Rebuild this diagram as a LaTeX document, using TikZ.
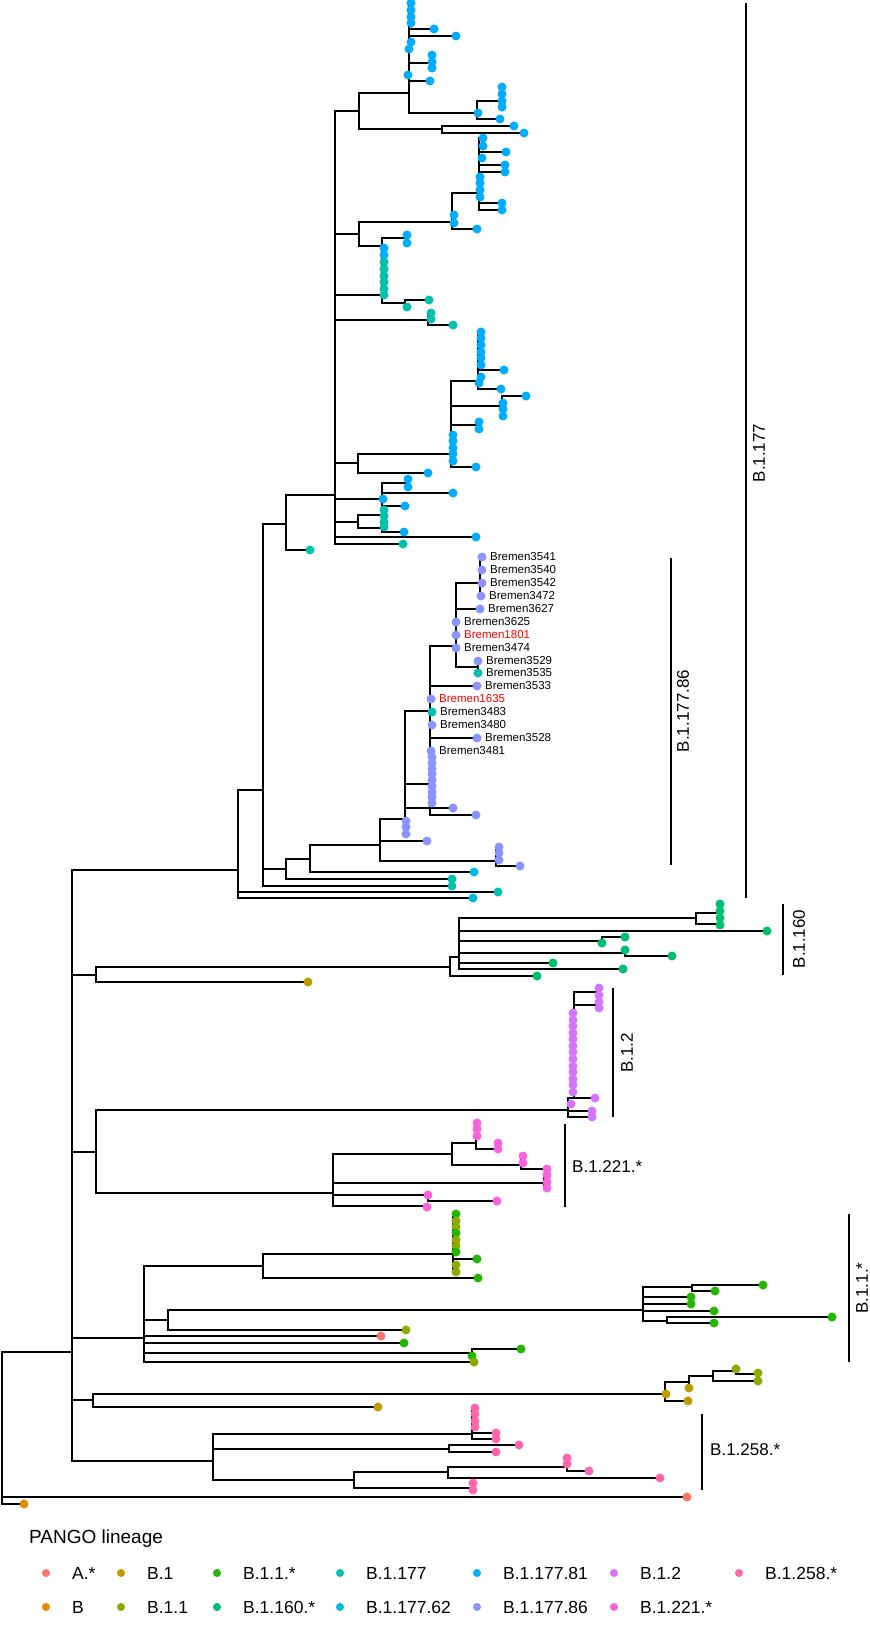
\documentclass[tikz,border=0pt]{standalone}
\usepackage{fontspec}
\setmainfont{Liberation Sans}
\pgfdeclarelayer{fg}
\pgfsetlayers{main,fg}
\definecolor{cA}{HTML}{F8766D}
\definecolor{cB}{HTML}{E18A00}
\definecolor{cBa}{HTML}{BE9C00}
\definecolor{cBb}{HTML}{8CAB00}
\definecolor{cBbs}{HTML}{24B700}
\definecolor{cBp}{HTML}{00BE70}
\definecolor{cT}{HTML}{00C1AB}
\definecolor{cTs}{HTML}{00BBDA}
\definecolor{cTe}{HTML}{00ACFC}
\definecolor{cTf}{HTML}{8B93FF}
\definecolor{cBt}{HTML}{D575FE}
\definecolor{cBu}{HTML}{F962DD}
\definecolor{cBv}{HTML}{FF65AC}
\newcommand\hb[3]{\draw[br] (#2,#1) -- (#3,#1);}
\newcommand\vb[3]{\draw[br] (#1,#2) -- (#1,#3);}
\newcommand\tp[3]{\begin{pgfonlayer}{fg}\fill[#3] (#1,#2) circle[radius=4.5];\end{pgfonlayer}}
\newcommand\tps[3]{\foreach \yy in {#3}{\tp{#1}{\yy}{#2}}}
\begin{document}
\begin{tikzpicture}[x=1pt,y=-1pt,
  br/.style={line width=1.8pt,line cap=rect,black},
  brack/.style={line width=1.7pt,black},
  brem/.style={anchor=west,inner sep=0pt,font=\fontsize{11.5}{13}\selectfont},
  clab/.style={inner sep=0pt,font=\fontsize{17}{20}\selectfont},
  leg/.style={anchor=west,inner sep=0pt,font=\fontsize{17.5}{20}\selectfont}]
\useasboundingbox (0,0) rectangle (870,1633);
% ---------------- root / backbone
\vb{2}{1352}{1504}
\hb{1352}{2}{72}
\hb{1497}{2}{687}\tp{687}{1497}{cA}
\hb{1504}{2}{24}\tp{24}{1504}{cB}
\vb{72}{870}{1461}
\hb{870}{72}{238}
\hb{975}{72}{96}
\hb{1152}{72}{96}
\hb{1338}{72}{144}
\hb{1400}{72}{93}
\hb{1461}{72}{213}
% ---------------- B.1.177 clade
\vb{238}{790}{898}
\hb{790}{238}{263}
\hb{892}{238}{498}\tp{498}{892}{cT}
\hb{898}{238}{473}\tp{473}{898}{cTs}
\vb{263}{524}{886}
\hb{524}{263}{286}
\hb{869}{263}{286}
\hb{886}{263}{452}\tp{452}{886}{cT}
% lower part
\vb{286}{859}{879}
\hb{859}{286}{310}
\hb{879}{286}{452}\tp{452}{879}{cT}
\vb{310}{845}{872}
\hb{845}{310}{380}
\hb{872}{310}{474}\tp{474}{872}{cTs}
\vb{380}{819}{861}
\hb{819}{380}{405}
\hb{841}{380}{427}\tp{427}{841}{cTf}
\hb{861}{380}{496}
\vb{496}{847}{866}
\tps{499}{cTf}{847,853,860}
\hb{866}{496}{520}\tp{520}{866}{cTf}
\vb{405}{711}{834}
\hb{711}{405}{430}
\hb{784}{405}{430}
\hb{808}{405}{453}\tp{453}{808}{cTf}
\tps{406}{cTf}{821,827,834}
\vb{430}{646}{815}
\hb{646}{430}{456}
\hb{686}{430}{477}\tp{477}{686}{cTf}
\tp{431}{699}{cTf}
\tp{432}{712}{cT}
\tp{432}{725}{cTf}
\hb{738}{430}{477}\tp{477}{738}{cTf}
\tp{431}{751}{cTf}
\tps{432}{cTf}{757,763,769,774,780,786,792,797,803}
\hb{815}{430}{476}\tp{476}{815}{cTf}
\vb{456}{583}{667}
\hb{583}{456}{480}
\vb{480}{557}{596}
\tps{482}{cTf}{557,570,583}
\tp{481}{596}{cTf}
\hb{609}{456}{480}\tp{480}{609}{cTf}
\tps{456}{cTf}{622,635,648}
\hb{667}{456}{478}
\vb{478}{661}{673}
\tp{478}{661}{cTf}
\tp{478}{673}{cT}
% upper part
\vb{286}{495}{550}
\hb{495}{286}{335}
\hb{550}{286}{310}\tp{310}{550}{cT}
\vb{335}{111}{544}
\hb{111}{335}{359}
\hb{234}{335}{359}
\hb{295}{335}{382}
\hb{320}{335}{428}
\hb{463}{335}{358}
\hb{499}{335}{382}
\hb{522}{335}{358}
\hb{537}{335}{476}\tp{476}{537}{cTe}
\hb{544}{335}{403}\tp{403}{544}{cT}
% top cluster
\vb{359}{93}{129}
\hb{93}{359}{409}
\hb{129}{359}{442}
\vb{442}{126}{133}
\hb{126}{442}{514}\tp{514}{126}{cTe}
\hb{133}{442}{524}\tp{524}{133}{cTe}
\vb{409}{3}{113}
\tps{411}{cTe}{3,10,17,23,42}
\tp{409}{49}{cTe}
\hb{29}{409}{434}\tp{434}{29}{cTe}
\hb{36}{409}{456}\tp{456}{36}{cTe}
\hb{63}{409}{432}
\vb{432}{55}{68}
\tps{432}{cTe}{55,62,68}
\tp{408}{75}{cTe}
\hb{81}{409}{430}\tp{430}{81}{cTe}
\hb{113}{409}{477}
\vb{477}{101}{119}
\hb{101}{477}{502}
\vb{502}{87}{107}
\tps{502}{cTe}{87,94,101,107}
\tp{478}{113}{cTe}
\hb{119}{477}{500}\tp{500}{119}{cTe}
% second cluster
\vb{359}{222}{246}
\hb{222}{359}{452}
\hb{246}{359}{382}
\vb{452}{193}{229}
\hb{193}{452}{479}
\tps{454}{cTe}{215,223}
\hb{229}{452}{477}\tp{477}{229}{cTe}
\vb{479}{138}{210}
\tps{483}{cTe}{138,146}
\hb{152}{479}{506}\tp{506}{152}{cTe}
\tp{482}{158}{cTe}
\hb{165}{479}{505}\tp{505}{165}{cTe}
\hb{172}{479}{505}\tp{505}{172}{cTe}
\tps{480}{cTe}{177,183,190,197}
\hb{203}{479}{502}\tp{502}{203}{cTe}
\hb{210}{479}{502}\tp{502}{210}{cTe}
\vb{382}{238}{303}
\hb{238}{382}{407}
\vb{407}{235}{243}
\tps{407}{cTe}{235,243}
\tps{384}{cTe}{248,255}
\tps{384}{cT}{262,269,276,282,289,295}
\hb{303}{382}{405}
\vb{405}{300}{307}
\hb{300}{405}{429}\tp{429}{300}{cT}
\tp{407}{307}{cT}
\vb{428}{313}{325}
\tps{431}{cT}{313,319}
\hb{325}{428}{453}\tp{453}{325}{cT}
% third cluster
\vb{358}{454}{473}
\hb{454}{358}{451}
\hb{473}{358}{428}\tp{428}{473}{cTe}
\vb{451}{381}{467}
\hb{381}{451}{478}
\vb{478}{332}{389}
\tps{481}{cTe}{332,338,345,352,358,365,377}
\hb{370}{478}{504}\tp{504}{370}{cTe}
\tp{479}{383}{cTe}
\hb{389}{478}{501}\tp{501}{389}{cTe}
\hb{406}{451}{502}
\vb{502}{396}{416}
\hb{396}{502}{526}\tp{526}{396}{cTe}
\tps{503}{cTe}{403,409,416}
\hb{425}{451}{477}
\vb{477}{422}{429}
\tps{479}{cTe}{422,429}
\tps{453}{cTe}{435,441,448,454,461}
\hb{467}{451}{476}\tp{476}{467}{cTe}
\vb{382}{483}{506}
\hb{483}{382}{407}
\vb{407}{479}{487}
\tps{408}{cTe}{479,487}
\hb{493}{382}{453}\tp{453}{493}{cTe}
\tp{383}{499}{cTe}
\hb{506}{382}{405}\tp{405}{506}{cTe}
\vb{358}{515}{528}
\hb{515}{358}{382}
\hb{528}{358}{382}
\vb{382}{510}{532}
\tps{384}{cT}{510,516,522,527}
\hb{532}{382}{404}\tp{404}{532}{cTe}
% ---------------- B.1.160 and B.1
\vb{96}{967}{982}
\hb{967}{96}{450}
\hb{982}{96}{308}\tp{308}{982}{cBa}
\vb{450}{957}{976}
\hb{957}{450}{459}
\hb{976}{450}{537}\tp{537}{976}{cBp}
\vb{459}{918}{969}
\hb{918}{459}{696}
\vb{696}{913}{924}
\hb{913}{696}{718}
\hb{924}{696}{718}
\tps{720}{cBp}{904,911,918,925}
\hb{931}{459}{767}\tp{767}{931}{cBp}
\hb{941}{459}{602}
\vb{602}{937}{943}
\hb{937}{602}{625}\tp{625}{937}{cBp}
\tp{602}{943}{cBp}
\hb{953}{459}{625}
\vb{625}{950}{956}
\tp{625}{950}{cBp}
\hb{956}{625}{672}\tp{672}{956}{cBp}
\hb{963}{459}{553}\tp{553}{963}{cBp}
\hb{969}{459}{623}\tp{623}{969}{cBp}
% ---------------- B.1.2 and B.1.221
\vb{96}{1110}{1193}
\hb{1110}{96}{568}
\vb{574}{992}{1098}
\vb{568}{1098}{1117}
\hb{1098}{568}{595}\tp{595}{1098}{cBt}
\tp{571}{1104}{cBt}
\hb{1111}{568}{592}\tp{592}{1111}{cBt}
\hb{1117}{568}{592}\tp{592}{1117}{cBt}
\hb{992}{574}{599}
\hb{1005}{574}{599}
\tps{599}{cBt}{988,995,1002,1008}
\tps{573}{cBt}{1013,1020,1026,1033,1039,1046,1052,1059,1066,1072,1079,1085,1092}
\hb{1193}{96}{333}
\vb{333}{1154}{1206}
\hb{1154}{333}{452}
\vb{452}{1143}{1165}
\hb{1143}{452}{476}
\vb{476}{1123}{1149}
\tps{477}{cBu}{1123,1129,1136}
\hb{1149}{476}{498}
\vb{498}{1143}{1149}
\tps{498}{cBu}{1143,1149}
\hb{1165}{452}{521}
\vb{521}{1156}{1169}
\tps{523}{cBu}{1156,1163}
\hb{1169}{521}{547}\tp{547}{1169}{cBu}
\hb{1183}{333}{544}
\vb{544}{1175}{1188}
\tps{547}{cBu}{1175,1182,1188}
\hb{1195}{333}{428}\tp{428}{1195}{cBu}
\vb{428}{1195}{1201}
\hb{1201}{428}{497}\tp{497}{1201}{cBu}
\hb{1206}{333}{427}\tp{427}{1207}{cBu}
% ---------------- B.1.1
\vb{144}{1266}{1362}
\hb{1266}{144}{263}
\vb{263}{1254}{1278}
\hb{1254}{263}{453}
\vb{453}{1214}{1272}
\tp{456}{1214}{cBbs}\tp{456}{1221}{cBb}\tp{456}{1227}{cBb}\tp{456}{1233}{cBbs}
\tp{456}{1240}{cBb}\tp{456}{1246}{cBb}\tp{456}{1252}{cBbs}\tp{456}{1265}{cBb}\tp{456}{1272}{cBb}
\hb{1259}{453}{477}\tp{477}{1259}{cBbs}
\hb{1278}{263}{478}\tp{478}{1278}{cBbs}
\hb{1320}{144}{168}
\vb{168}{1310}{1330}
\hb{1310}{168}{643}
\vb{643}{1287}{1321}
\hb{1287}{643}{692}
\vb{692}{1285}{1291}
\hb{1285}{692}{763}\tp{763}{1285}{cBbs}
\hb{1291}{692}{715}\tp{715}{1291}{cBbs}
\hb{1297}{643}{691}\tp{691}{1297}{cBbs}
\hb{1304}{643}{691}\tp{691}{1304}{cBbs}
\hb{1311}{643}{714}\tp{714}{1311}{cBbs}
\hb{1321}{643}{667}
\vb{667}{1317}{1323}
\hb{1317}{667}{832}\tp{832}{1317}{cBbs}
\hb{1323}{667}{714}\tp{714}{1323}{cBbs}
\hb{1330}{168}{406}\tp{406}{1330}{cBb}
\hb{1336}{144}{381}\tp{381}{1336}{cA}
\hb{1343}{144}{404}\tp{404}{1343}{cBbs}
\hb{1353}{144}{472}
\vb{472}{1349}{1356}
\hb{1349}{472}{521}\tp{521}{1349}{cBbs}
\tp{472}{1356}{cBbs}
\hb{1362}{144}{474}\tp{474}{1362}{cBb}
% ---------------- B.1 small clade
\vb{93}{1394}{1407}
\hb{1394}{93}{665}\tp{666}{1394}{cBa}
\vb{665}{1382}{1401}
\hb{1382}{665}{689}
\vb{689}{1376}{1388}
\hb{1376}{689}{713}
\vb{713}{1371}{1381}
\hb{1371}{713}{736}\tp{736}{1369}{cBb}
\hb{1374}{736}{758}\tp{758}{1373}{cBb}
\hb{1381}{713}{758}\tp{758}{1381}{cBb}
\tp{689}{1388}{cBa}
\hb{1401}{665}{688}\tp{688}{1401}{cBa}
\hb{1407}{93}{378}\tp{378}{1407}{cBa}
% ---------------- B.1.258
\vb{213}{1434}{1480}
\hb{1434}{213}{472}
\vb{472}{1408}{1439}
\tps{475}{cBv}{1408,1414,1421,1427}
\hb{1433}{472}{496}\tp{496}{1433}{cBv}
\hb{1439}{472}{496}\tp{496}{1439}{cBv}
\hb{1449}{213}{449}
\vb{449}{1445}{1452}
\hb{1445}{449}{519}\tp{519}{1445}{cBv}
\hb{1452}{449}{496}\tp{496}{1452}{cBv}
\hb{1480}{213}{354}
\vb{354}{1472}{1488}
\hb{1472}{354}{448}
\vb{448}{1467}{1478}
\hb{1467}{448}{567}
\vb{567}{1458}{1471}
\tps{567}{cBv}{1458,1464}
\hb{1471}{567}{589}\tp{589}{1471}{cBv}
\hb{1478}{448}{660}\tp{660}{1478}{cBv}
\hb{1488}{354}{473}
\vb{473}{1483}{1490}
\tps{473}{cBv}{1483,1490}
% ---------------- Bremen labels
\node[brem] (b3541) at (490,557) {Bremen3541};
\node[brem] (b3540) at (490,570) {Bremen3540};
\node[brem] (b3542) at (490,583) {Bremen3542};
\node[brem] (b3472) at (489,596) {Bremen3472};
\node[brem] (b3627) at (488,609) {Bremen3627};
\node[brem] (b3625) at (464,622) {Bremen3625};
\node[brem,text=red] (b1801) at (464,635) {Bremen1801};
\node[brem] (b3474) at (464,648) {Bremen3474};
\node[brem] (b3529) at (486,661) {Bremen3529};
\node[brem] (b3535) at (486,673) {Bremen3535};
\node[brem] (b3533) at (485,686) {Bremen3533};
\node[brem,text=red] (b1635) at (439,699) {Bremen1635};
\node[brem] (b3483) at (440,712) {Bremen3483};
\node[brem] (b3480) at (440,725) {Bremen3480};
\node[brem] (b3528) at (485,738) {Bremen3528};
\node[brem] (b3481) at (439,751) {Bremen3481};
% ---------------- clade brackets
\draw[brack] (746,3) -- (746,898);
\node[clab,rotate=90] (l177) at (759,453) {B.1.177};
\draw[brack] (671,558) -- (671,865);
\node[clab,rotate=90] (l17786) at (683,711) {B.1.177.86};
\draw[brack] (783,904) -- (783,975);
\node[clab,rotate=90] (l160) at (799,939) {B.1.160};
\draw[brack] (613,988) -- (613,1117);
\node[clab,rotate=90] (l12) at (627,1053) {B.1.2};
\draw[brack] (565,1124) -- (565,1207);
\node[clab,anchor=west] (l221) at (572,1167) {B.1.221.*};
\draw[brack] (849,1214) -- (849,1362);
\node[clab,rotate=90] (l11) at (862,1288) {B.1.1.*};
\draw[brack] (702,1414) -- (702,1490);
\node[clab,anchor=west] (l258) at (710,1450) {B.1.258.*};
% ---------------- legend
\node[leg,font=\fontsize{19}{22}\selectfont] (ltitle) at (29,1539) {PANGO lineage};
\foreach \xx/\cc/\tt [count=\i] in {46/cA/A.*,121/cBa/B.1,217/cBbs/B.1.1.*,340/cT/B.1.177,477/cTe/B.1.177.81,614/cBt/B.1.2,739/cBv/B.1.258.*}{
  \fill[\cc] (\xx,1573) circle[radius=4];
  \node[leg] (lr\i) at (\xx+26,1573) {\tt};
}
\foreach \xx/\cc/\tt [count=\i] in {46/cB/B,121/cBb/B.1.1,217/cBp/B.1.160.*,340/cTs/B.1.177.62,477/cTf/B.1.177.86,614/cBu/B.1.221.*}{
  \fill[\cc] (\xx,1607) circle[radius=4];
  \node[leg] (ls\i) at (\xx+26,1607) {\tt};
}
\end{tikzpicture}
\end{document}
